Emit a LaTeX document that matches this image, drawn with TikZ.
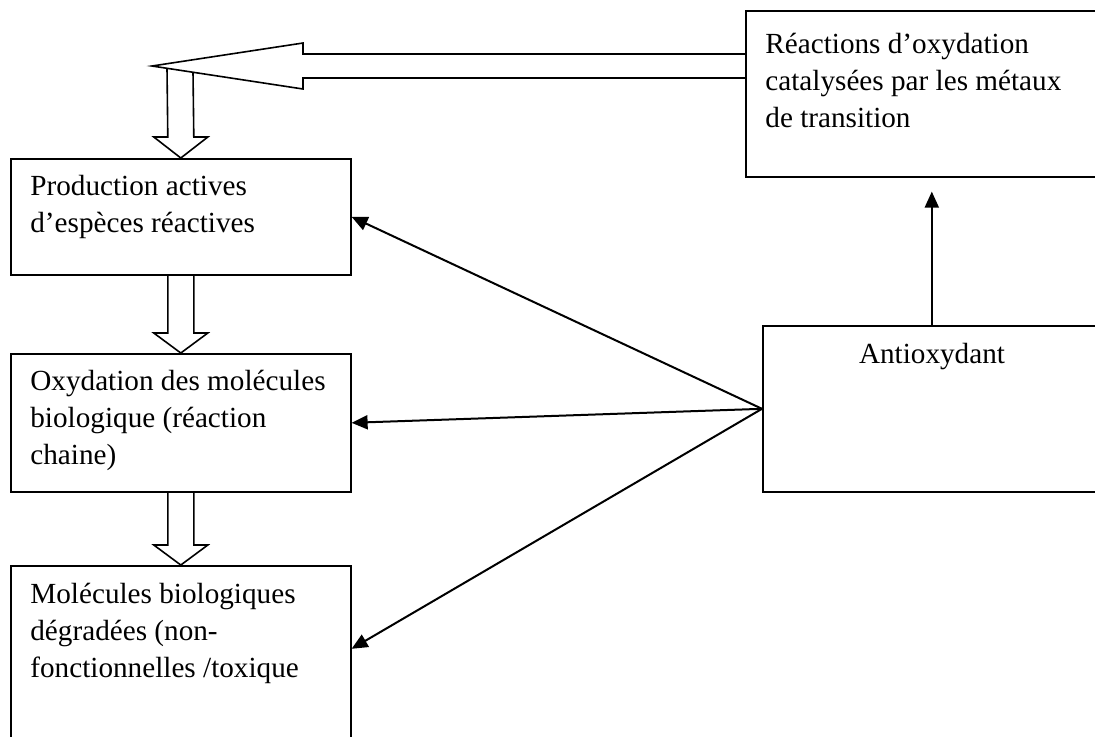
\documentclass[tikz,border=0pt]{standalone}
\usepackage{fontspec}
\setmainfont{Liberation Serif}
\usetikzlibrary{positioning, calc, arrows.meta}

\tikzset{
  box/.style={draw, line width=0.8pt, inner sep=0pt, anchor=north west, minimum width=170pt},
  boxtext/.style={inner sep=0pt, anchor=north west, align=left, font=\fontsize{14.6pt}{18.5pt}\selectfont},
  thinarrow/.style={-{Triangle[length=8pt,width=7pt]}, line width=1pt},
  block/.style={line width=0.8pt, line join=miter}
}

\begin{document}
\begin{tikzpicture}[x=0.5pt, y=-0.5pt]
  \useasboundingbox (0,0) rectangle (1095,736);
  \clip (0,0) rectangle (1095,736);

  % left column
  \node[box, minimum height=58pt] (prod) at (10,158) {};
  \node[boxtext] (prodtxt) at ($(prod.north west)+(20,17)$) {Production actives\\d’espèces réactives};

  \node[box, minimum height=69pt] (oxy) at (10,353) {};
  \node[boxtext] (oxytxt) at ($(oxy.north west)+(20,17)$) {Oxydation des molécules\\biologique (réaction\\chaine)};

  \node[box, minimum height=90pt] (mol) at (10,565) {};
  \node[boxtext] (moltxt) at ($(mol.north west)+(20,18)$) {Molécules biologiques\\dégradées (non-\\fonctionnelles /toxique};

  % right column
  \node[box, minimum width=177.5pt, minimum height=83pt] (reac) at (745,10) {};
  \node[boxtext] (reactxt) at ($(reac.north west)+(20,23)$) {Réactions d’oxydation\\catalysées par les métaux\\de transition};

  \node[box, minimum width=169pt, minimum height=83pt] (anti) at (762,325) {};
  \node[boxtext, anchor=base] (antitxt) at (932,363) {Antioxydant};

  % hollow block arrows
  \draw[block] (reac.west |- 0,54) -- (303,54) -- (303,43) -- (152,66) -- (303,89) -- (303,78) -- (reac.west |- 0,78);
  \draw[block] (167,68) -- ($(prod.north)+(-13,-21)$) -- ++(-14,0) -- (prod.north) -- ++(27,-21) -- ++(-14,0) -- (193,72);
  \draw[block] ($(prod.south)+(-13,0)$) -- ($(oxy.north)+(-13,-20)$) -- ++(-14,0) -- (oxy.north) -- ++(27,-20) -- ++(-14,0) -- ($(prod.south)+(13,0)$);
  \draw[block] ($(oxy.south)+(-13,0)$) -- ($(mol.north)+(-13,-20)$) -- ++(-14,0) -- (mol.north) -- ++(27,-20) -- ++(-14,0) -- ($(oxy.south)+(13,0)$);

  % antioxidant arrows
  \draw[thinarrow] (anti.west) -- (prod.east);
  \draw[thinarrow] (anti.west) -- (oxy.east);
  \draw[thinarrow] (anti.west) -- ([yshift=3.5pt]mol.east);
  \draw[thinarrow, shorten >=7pt] (anti.north) -- (anti.north |- reac.south);

\end{tikzpicture}
\end{document}
